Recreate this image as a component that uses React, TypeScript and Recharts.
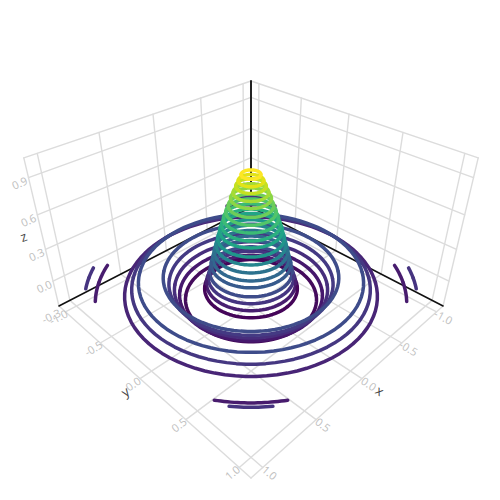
import { Scatter, ScatterChart, XAxis, YAxis } from "recharts";

// rings of the 3D line: radius, height, colour
const ringRadius = [
  0.069, 0.09, 0.108, 0.127, 0.146, 0.164, 0.183, 0.201, 0.217, 0.233, 0.249, 0.263, 0.279, 0.292, 0.306,
  0.32, 0.334, 0.35, 0.366, 0.522, 0.565, 0.601, 0.639, 0.677, 0.865, 0.921, 0.98, 1.198, 1.27,
];
const ringHeight = [
  0.925, 0.878, 0.836, 0.785, 0.74, 0.68, 0.628, 0.575, 0.52, 0.472, 0.406, 0.347, 0.289, 0.227, 0.176,
  0.104, 0.052, -0.001, -0.055, -0.145, -0.095, -0.035, 0.025, 0.095, 0.085, 0.035, -0.015, -0.015, 0.03,
];
const ringColor = [
  "#fde725", "#e2e318", "#c5e021", "#a5db36", "#8bd646", "#6ccd5a", "#52c569", "#3bbb75", "#2ab07f", "#20a486",
  "#1f968b", "#25858e", "#2c728e", "#31688e", "#375a8c", "#3e4c8a", "#453581", "#481f70", "#450559",
  "#440b5c", "#46186d", "#472e7c", "#443a83", "#3f4d8a", "#3e4c8a", "#453781", "#482576", "#481c6e", "#463480",
];

const xyTicks = [-1, -0.5, 0, 0.5, 1];
const xyTickLabels = ["-1.0", "-0.5", "0.0", "0.5", "1.0"];
const zTicks = [-0.3, 0, 0.3, 0.6, 0.9];
const zTickLabels = ["-0.3", "0.0", "0.3", "0.6", "0.9"];

const BOX = 1.1; // x and y run past the ticks
const DATA_LIMIT = 1; // the line stops here, which is what leaves the corner arcs
const Z_MIN = -0.25;
const Z_MAX = 1.05;

// camera fitted to the box corners
function project(x: number, y: number, z: number) {
  const u = y - x;
  const v = x + y;
  const d = z - Z_MIN;
  const w = 1 - 0.12245 * v - 0.119 * d;
  return {
    sx: 251 + (87.3 * u) / w,
    sy: (306 + 19.64 * v - 132.7 * d) / w,
  };
}

type Pt = { sx: number; sy: number };
type Path = { points: Pt[]; stroke: string; width: number };

const LINE_WIDTH = 3.5;

function ringPaths(r: number, z: number, stroke: string, from: number): Path[] {
  const step = r > DATA_LIMIT ? 1 : 4;
  const paths: Path[] = [];
  let run: Pt[] = [];
  for (let deg = from; deg <= from + 180; deg += step) {
    const x = r * Math.cos((deg * Math.PI) / 180);
    const y = r * Math.sin((deg * Math.PI) / 180);
    if (Math.abs(x) <= DATA_LIMIT && Math.abs(y) <= DATA_LIMIT) {
      run.push(project(x, y, z));
    } else if (run.length) {
      paths.push({ points: run, stroke, width: LINE_WIDTH });
      run = [];
    }
  }
  if (run.length > 1) paths.push({ points: run, stroke, width: LINE_WIDTH });
  return paths;
}

// back halves far to near, then front halves near the middle outwards
const order = ringRadius.map((_, i) => i);
const backHalves = [...order]
  .sort((a, b) => ringRadius[b] - ringRadius[a])
  .flatMap((i) => ringPaths(ringRadius[i], ringHeight[i], ringColor[i], 135));
const frontHalves = [...order]
  .sort((a, b) => ringRadius[a] - ringRadius[b])
  .flatMap((i) => ringPaths(ringRadius[i], ringHeight[i], ringColor[i], -45));

const GRID = "#dcdcdc";
const gridPaths: Path[] = [];
const addGrid = (a: number[], b: number[]) =>
  gridPaths.push({
    points: [project(a[0], a[1], a[2]), project(b[0], b[1], b[2])],
    stroke: GRID,
    width: 1.4,
  });

[...xyTicks, BOX].forEach((t) => {
  addGrid([t, -BOX, Z_MIN], [t, BOX, Z_MIN]);
  addGrid([-BOX, t, Z_MIN], [BOX, t, Z_MIN]);
  addGrid([t, -BOX, Z_MIN], [t, -BOX, Z_MAX]);
  addGrid([-BOX, t, Z_MIN], [-BOX, t, Z_MAX]);
});
[...zTicks.slice(1), Z_MAX].forEach((z) => {
  addGrid([BOX, -BOX, z], [-BOX, -BOX, z]);
  addGrid([-BOX, BOX, z], [-BOX, -BOX, z]);
});

const axisPaths: Path[] = [
  { points: [project(BOX, -BOX, Z_MIN), project(-BOX, -BOX, Z_MIN)], stroke: "#111111", width: 1.5 },
  { points: [project(-BOX, BOX, Z_MIN), project(-BOX, -BOX, Z_MIN)], stroke: "#111111", width: 1.5 },
  { points: [project(-BOX, -BOX, Z_MIN), project(-BOX, -BOX, Z_MAX)], stroke: "#222222", width: 2 },
];

type Label = Pt & { text: string; angle: number; size: number; fill: string };

const labelAt = (
  p: Pt,
  dx: number,
  dy: number,
  text: string,
  angle: number,
  size = 11,
  fill = "#c0c0c0",
): Label => ({ sx: p.sx + dx, sy: p.sy + dy, text, angle, size, fill });

const labels: Label[] = [
  ...xyTicks.map((t, i) => labelAt(project(BOX, t, Z_MIN), -7, 5, xyTickLabels[i], -28 - i * 3)),
  ...xyTicks.map((t, i) => labelAt(project(t, BOX, Z_MIN), 7, 5, xyTickLabels[i], 28 + i * 3)),
  ...zTicks.map((z, i) => labelAt(project(BOX, -BOX, z), -9, 5, zTickLabels[i], -25)),
  labelAt(project(BOX, 0, Z_MIN), -15, 13, "y", -35, 13, "#444444"),
  labelAt(project(0, BOX, Z_MIN), 18, 12, "x", 35, 13, "#444444"),
  labelAt(project(BOX, -BOX, 0.45), -18, 4, "z", -20, 13, "#444444"),
];

const NoDot = () => <g />;

const LabelMark = (props: any) => {
  const { cx, cy, payload } = props;
  return (
    <text
      x={cx}
      y={cy}
      textAnchor="middle"
      dominantBaseline="central"
      fontFamily="'Open Sans', sans-serif"
      fontSize={payload.size}
      fill={payload.fill}
      transform={`rotate(${payload.angle} ${cx} ${cy})`}
    >
      {payload.text}
    </text>
  );
};

export default function App() {
  const allPaths = [...gridPaths, ...axisPaths, ...backHalves, ...frontHalves];
  return (
    <div style={{ position: "absolute", left: 0, top: 0, width: 500, height: 500 }}>
      <ScatterChart width={500} height={500} margin={{ top: 0, right: 0, bottom: 0, left: 0 }}>
        <XAxis type="number" dataKey="sx" domain={[0, 500]} hide />
        <YAxis type="number" dataKey="sy" domain={[0, 500]} reversed hide />
        {allPaths.map((p, i) => (
          <Scatter
            key={i}
            data={p.points}
            shape={NoDot}
            line={{ stroke: p.stroke, strokeWidth: p.width, strokeLinecap: "round", strokeLinejoin: "round" }}
            isAnimationActive={false}
          />
        ))}
        <Scatter data={labels} shape={LabelMark} isAnimationActive={false} />
      </ScatterChart>
    </div>
  );
}
